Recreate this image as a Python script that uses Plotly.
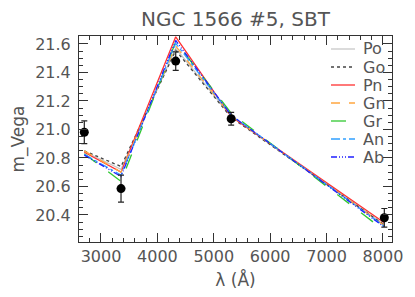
import plotly.graph_objects as go

# Filter pivot wavelengths (Angstrom)
wave = [2704, 3355, 4325, 5308, 8024]

# Observed magnitudes and errors
obs_mag = [20.98, 20.585, 21.48, 21.075, 20.38]
obs_err = [0.08, 0.095, 0.065, 0.045, 0.065]

# Model magnitudes
model_names = ["Po", "Go", "Pn", "Gn", "Gr", "An", "Ab"]
model_Po = [20.845, 20.72, 21.57, 21.09, 20.33]
model_Go = [20.85, 20.74, 21.555, 21.085, 20.33]
model_Pn = [20.84, 20.70, 21.65, 21.09, 20.345]
model_Gn = [20.85, 20.70, 21.585, 21.095, 20.325]
model_Gr = [20.83, 20.635, 21.615, 21.115, 20.29]
model_An = [20.825, 20.68, 21.605, 21.10, 20.32]
model_Ab = [20.82, 20.67, 21.625, 21.10, 20.315]

x_ticks = [3000, 4000, 5000, 6000, 7000, 8000]
y_ticks = [20.4, 20.6, 20.8, 21.0, 21.2, 21.4, 21.6]

models = [model_Po, model_Go, model_Pn, model_Gn, model_Gr, model_An, model_Ab]
styles = [
    dict(color="#c8c8c8", dash="solid"),
    dict(color="#444444", dash="dot"),
    dict(color="#ff3030", dash="solid"),
    dict(color="#ffa640", dash="dash"),
    dict(color="#30c830", dash="longdash"),
    dict(color="#30a0ff", dash="dashdot"),
    dict(color="#2020ff", dash="6px,2px,1px,2px,1px,2px,1px,2px"),
]

FONT = "DejaVu Sans"
TXT = "#555555"

# page body has an 8px default margin; figure sized to fit the window
OFF = 8
FW, FH = 415 - OFF, 297 - OFF
# plot area geometry (absolute window pixels)
L, R, T, B = 79, 392, 36, 242
W, H = R - L, B - T

fig = go.Figure()
for name, vals, st in zip(model_names, models, styles):
    fig.add_trace(go.Scatter(
        x=wave, y=vals, mode="lines", name=name, showlegend=False,
        line=dict(color=st["color"], dash=st["dash"], width=1.3),
    ))

fig.add_trace(go.Scatter(
    x=wave, y=obs_mag, mode="markers", showlegend=False,
    marker=dict(color="black", size=9),
    error_y=dict(type="data", array=obs_err, color="#222222", thickness=1.2, width=3),
))

# legend drawn as layout shapes + annotations
for i, (name, st) in enumerate(zip(model_names, styles)):
    py = 49 + 18 * i
    yp = (B - py) / H
    fig.add_shape(type="line", xref="paper", yref="paper",
                  x0=(331 - L) / W, x1=(355 - L) / W, y0=yp, y1=yp,
                  line=dict(color=st["color"], dash=st["dash"], width=1.3))
    fig.add_annotation(xref="paper", yref="paper", x=(362 - L) / W, y=yp,
                       xanchor="left", yanchor="middle", showarrow=False, text=name,
                       height=17, borderpad=0,
                       font=dict(family=FONT, size=16, color=TXT))

axis_common = dict(
    showgrid=False, zeroline=False, showline=True, linecolor="#333333", linewidth=1,
    mirror="allticks", ticks="inside", ticklen=9, tickcolor="#333333",
    tickfont=dict(family=FONT, size=16, color=TXT),
)

fig.update_layout(
    width=FW, height=FH,
    margin=dict(l=L - OFF, r=415 - R, t=T - OFF, b=297 - B),
    paper_bgcolor="white", plot_bgcolor="white",
    title=dict(text="NGC 1566 #5, SBT", x=(L + W / 2 - OFF) / FW, xanchor="center",
               y=1 - (19 - OFF) / FH, yanchor="middle",
               font=dict(family=FONT, size=20, color=TXT)),
    xaxis=dict(range=[2610, 8160], tickvals=x_ticks, ticktext=[str(v) for v in x_ticks],
               minor=dict(ticks="inside", dtick=200, ticklen=4, tickcolor="#333333"),
               title=dict(text="λ (Å)", font=dict(family=FONT, size=17, color=TXT), standoff=8),
               automargin=False,
               **axis_common),
    yaxis=dict(range=[20.21, 21.656], tickvals=y_ticks, ticktext=[f"{v:.1f}" for v in y_ticks],
               minor=dict(ticks="inside", dtick=0.05, ticklen=4, tickcolor="#333333"),
               ticklabelstandoff=4, automargin=False,
               title=dict(text="m_Vega", font=dict(family=FONT, size=17, color=TXT), standoff=6),
               **axis_common),
    showlegend=False,
)

fig.write_html("out.html")
